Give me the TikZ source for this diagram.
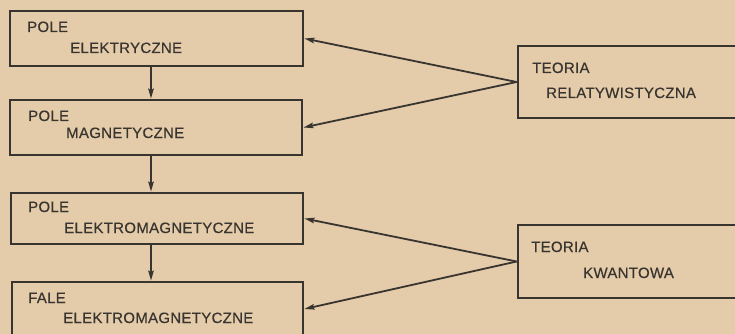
\documentclass[tikz,border=0pt]{standalone}
\usepackage{fontspec}
\setmainfont{Liberation Sans}[LetterSpace=2, FakeBold=0.4]
\usetikzlibrary{arrows.meta}
\definecolor{paper}{HTML}{E4CCAA}
\definecolor{ink}{HTML}{38342F}
\tikzset{
  box/.style={draw=ink, line width=2.8pt, rectangle, inner sep=0pt},
  lbl/.style={anchor=base west, inner sep=0pt, text=ink, font=\fontsize{15}{17}\selectfont},
  link/.style={draw=ink, line width=1.8pt, -{Stealth[length=10pt,width=5.5pt,inset=1.5pt]}},
}
\begin{document}
\begin{tikzpicture}[x=1pt,y=-1pt]
  \fill[paper] (0,0) rectangle (735,334);
  \useasboundingbox (0,0) rectangle (735,334);
  \clip (0,0) rectangle (735,334);

  % left column of phenomena
  \node[box, minimum width=293pt, minimum height=55pt] (b1) at (156.5,38.5) {};
  \node[box, minimum width=292pt, minimum height=55pt] (b2) at (156,127.5) {};
  \node[box, minimum width=292pt, minimum height=51pt] (b3) at (157,218.5) {};
  \node[box, minimum width=291pt, minimum height=54pt] (b4) at (157.5,309) {};

  % theories on the right
  \node[box, minimum width=230pt, minimum height=72pt] (t1) at (633,82) {};
  \node[box, minimum width=230pt, minimum height=73pt] (t2) at (633,261.5) {};

  % labels
  \node[lbl] (l1a) at (27,32) {POLE};
  \node[lbl] (l1b) at (70,53) {ELEKTRYCZNE};
  \node[lbl] (l2a) at (28,121) {POLE};
  \node[lbl] (l2b) at (66,138) {MAGNETYCZNE};
  \node[lbl] (l3a) at (28,212) {POLE};
  \node[lbl] (l3b) at (64,233) {ELEKTROMAGNETYCZNE};
  \node[lbl] (l4a) at (28,303) {FALE};
  \node[lbl] (l4b) at (63,323) {ELEKTROMAGNETYCZNE};
  \node[lbl] (m1a) at (532,73) {TEORIA};
  \node[lbl] (m1b) at (546,98) {RELATYWISTYCZNA};
  \node[lbl] (m2a) at (531,252) {TEORIA};
  \node[lbl] (m2b) at (583,278) {KWANTOWA};

  % vertical chain
  \draw[link] ([xshift=-5.5pt]b1.south) -- ([xshift=-5pt]b2.north);
  \draw[link] ([xshift=-5pt]b2.south) -- ([xshift=-6pt]b3.north);
  \draw[link] ([xshift=-6pt]b3.south) -- ([xshift=-6.5pt]b4.north);

  % theory links
  \draw[link] (t1.west) -- (b1.east);
  \draw[link] (t1.west) -- (b2.east);
  \draw[link] (t2.west) -- (b3.east);
  \draw[link] (t2.west) -- (b4.east);
\end{tikzpicture}
\end{document}
